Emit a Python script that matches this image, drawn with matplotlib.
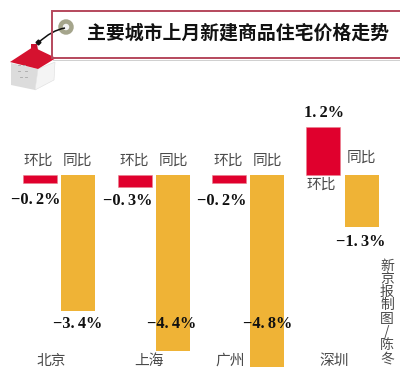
import numpy as np
import matplotlib
matplotlib.use('Agg')
import matplotlib.pyplot as plt
from matplotlib.patches import Polygon, Circle, PathPatch
from matplotlib.path import Path

plt.rcParams['font.family'] = ['Noto Sans CJK SC', 'DejaVu Sans']

cities = ['北京', '上海', '广州', '深圳']
mom = [-0.2, -0.3, -0.2, 1.2]   # 环比
yoy = [-3.4, -4.4, -4.8, -1.3]  # 同比
mom_labels = ['\u22120.\u20092%', '\u22120.\u20093%', '\u22120.\u20092%', '1.\u20092%']
yoy_labels = ['\u22123.\u20094%', '\u22124.\u20094%', '\u22124.\u20098%', '\u22121.\u20093%']

RED = '#e0002d'
ORANGE = '#efb336'
GREY = '#4a4a4a'
serif = ['Liberation Serif', 'DejaVu Serif']

fig = plt.figure(figsize=(4, 3.71), dpi=100)

# pixel axes for the decoration and the text
deco = fig.add_axes([0, 0, 1, 1])
deco.set_xlim(0, 400)
deco.set_ylim(371, 0)
deco.axis('off')

# chart axes: 40 px per percent, zero line at y=175, groups 94.4 px apart
ax = fig.add_axes([0, 0, 1, 1])
ax.patch.set_alpha(0)
ax.set_xlim(-59 / 94.4, (400 - 59) / 94.4)
ax.set_ylim(-196 / 40, 175 / 40)
ax.axis('off')

x = np.arange(len(cities))
ax.bar(x - 0.2, mom, width=0.36, color=RED, edgecolor='#e8808f', linewidth=0.4)
ax.bar(x + 0.205, yoy, width=0.36, color=ORANGE, edgecolor='none')

# title box
deco.plot([400, 52, 52, 400], [11, 11, 58, 58], color='#b5475c', lw=1.4, solid_joinstyle='miter')
deco.plot([53, 400], [59.5, 59.5], color='#c8c8c8', lw=0.6)
deco.text(238, 33, '主要城市上月新建商品住宅价格走势', fontsize=13.6, fontweight='bold',
          color='#111111', ha='center', va='center')

# house with the tag
deco.add_patch(Polygon([(11, 63), (11, 85), (35, 90), (38, 69)], fc='#dcdcdc', ec='none'))
deco.add_patch(Polygon([(38, 69), (35, 90), (54, 80), (55, 62)], fc='#f4f4f4', ec='#dddddd', lw=0.4))
deco.add_patch(Polygon([(31, 44), (37, 44), (38, 50), (31, 50)], fc='#c8102e', ec='none'))
deco.add_patch(Polygon([(10, 62), (33, 47), (56, 58), (38, 69)], fc='#d5122f', ec='none'))
deco.add_patch(Circle((66, 27), 5.5, fc='#f4f4f4', ec='#a5a58c', lw=3.2))
deco.add_patch(PathPatch(Path([(65, 28), (52, 30), (38, 43)], [Path.MOVETO, Path.CURVE3, Path.CURVE3]),
                         fc='none', ec='#111111', lw=1.1))
deco.plot([38], [42], marker='D', ms=2.5, color='#111111')
for px, py in [(18, 65), (23, 65), (18, 71), (25, 71), (20, 77), (25, 77)]:
    deco.plot([px, px + 2], [py, py], color='#a8a8a8', lw=0.6)

# series names
mom_pos = [(38, 161), (134, 161), (228, 161), (321, 185)]
yoy_pos = [(77, 161), (173, 161), (267, 161), (361, 158)]
for p in mom_pos:
    deco.text(p[0], p[1], '环比', fontsize=10.6, color=GREY, ha='center', va='center')
for p in yoy_pos:
    deco.text(p[0], p[1], '同比', fontsize=10.6, color=GREY, ha='center', va='center')

# values
mom_text = [(36, 200), (128, 201), (222, 201), (324, 113)]
yoy_text = [(78, 324), (172, 324), (268, 324), (361, 242)]
for lab, p in zip(mom_labels, mom_text):
    deco.text(p[0], p[1], lab, family=serif, fontsize=11.8, fontweight='bold', color='#111111',
              ha='center', va='center')
for lab, p in zip(yoy_labels, yoy_text):
    deco.text(p[0], p[1], lab, family=serif, fontsize=11.8, fontweight='bold', color='#111111',
              ha='center', va='center')

# cities and credit
city_x = [51, 149, 230, 334]
for c, px in zip(cities, city_x):
    deco.text(px, 361, c, fontsize=10.6, color=GREY, ha='center', va='center')
deco.text(387, 312, '\n'.join('新京报制图/陈冬'), fontsize=10, color=GREY, ha='center', va='center',
          linespacing=0.93)

# the deco text has to sit over the bars
for t in list(deco.texts):
    t.remove()
    fig.add_artist(t)
    t.set_transform(deco.transData)
    t.set_zorder(5)

fig.savefig('out.png', dpi=100)
